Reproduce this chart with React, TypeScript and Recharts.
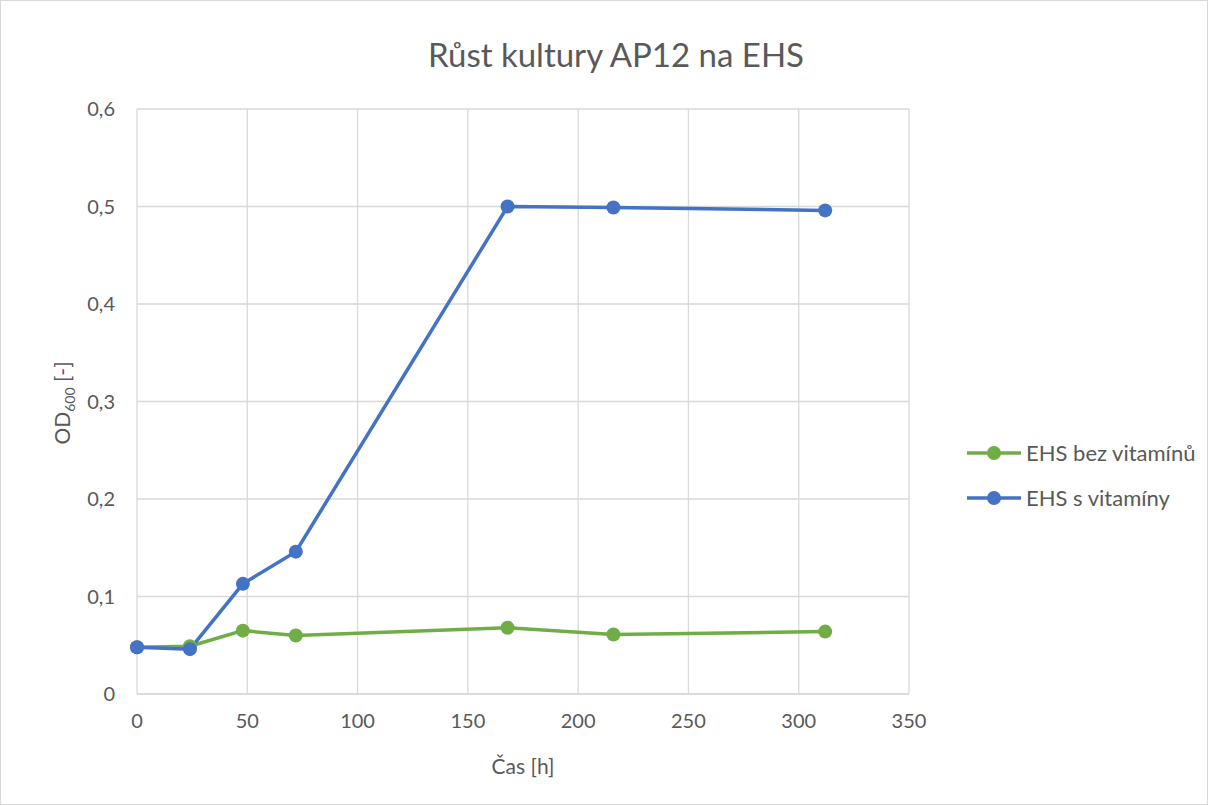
import { LineChart, Line, XAxis, YAxis, CartesianGrid } from "recharts";

// Time points [h]
const hours = [0, 24, 48, 72, 168, 216, 312];
const bezVitaminu = [0.048, 0.049, 0.065, 0.06, 0.068, 0.061, 0.064];
const sVitaminy = [0.048, 0.046, 0.113, 0.146, 0.5, 0.499, 0.496];
const xTicks = [0, 50, 100, 150, 200, 250, 300, 350];
const yTicks = [0, 0.1, 0.2, 0.3, 0.4, 0.5, 0.6];

const GREEN = "#70AD47";
const BLUE = "#4472C4";
const TEXT = "#595959";
const FONT = "Lato, 'Open Sans', sans-serif";

const data = hours.map((h, i) => ({ h, bez: bezVitaminu[i], s: sVitaminy[i] }));

const series = [
  { key: "bez", name: "EHS bez vitamínů", color: GREEN },
  { key: "s", name: "EHS s vitamíny", color: BLUE },
];

function LegendBox() {
  return (
    <div
      style={{
        position: "absolute",
        left: 966,
        top: 429,
        fontFamily: FONT,
        fontSize: 22,
        color: TEXT,
      }}
    >
      {series.map((s) => (
        <div key={s.key} style={{ display: "flex", alignItems: "center", height: 45 }}>
          <svg width={56} height={16}>
            <line x1={0} y1={8} x2={54} y2={8} stroke={s.color} strokeWidth={3.5} />
            <circle cx={27} cy={8} r={7} fill={s.color} />
          </svg>
          <span style={{ marginLeft: 3 }}>{s.name}</span>
        </div>
      ))}
    </div>
  );
}

function YLabel() {
  return (
    <text
      transform="translate(69, 402) rotate(-90)"
      textAnchor="middle"
      fill={TEXT}
      fontFamily={FONT}
      fontSize={21}
    >
      OD
      <tspan fontSize={14} dy={5}>600</tspan>
      <tspan dy={-5}> [-]</tspan>
    </text>
  );
}

export default function App() {
  return (
    <div
      style={{
        position: "absolute",
        left: 0,
        top: 0,
        width: 1208,
        height: 805,
        background: "#fff",
        border: "1px solid #d9d9d9",
        boxSizing: "border-box",
      }}
    >
      <div
        style={{
          position: "absolute",
          top: 33,
          left: 0,
          width: 1230,
          textAlign: "center",
          fontFamily: FONT,
          fontSize: 33,
          color: TEXT,
        }}
      >
        Růst kultury AP12 na EHS
      </div>
      <LineChart
        width={1206}
        height={803}
        data={data}
        margin={{ top: 108, left: 76, right: 298, bottom: 70 }}
        style={{ position: "absolute", left: 0, top: 0 }}
      >
        <CartesianGrid stroke="#d9d9d9" strokeWidth={1.3} />
        <XAxis
          dataKey="h"
          type="number"
          domain={[0, 350]}
          ticks={xTicks}
          height={40}
          axisLine={{ stroke: "#d9d9d9", strokeWidth: 1.3 }}
          tickLine={false}
          tickMargin={14}
          tick={{ fill: TEXT, fontSize: 20, fontFamily: FONT }}
          label={{
            value: "Čas [h]",
            position: "insideBottom",
            offset: -40,
            fill: TEXT,
            fontSize: 21,
            fontFamily: FONT,
          }}
        />
        <YAxis
          type="number"
          domain={[0, 0.6]}
          ticks={yTicks}
          width={60}
          axisLine={false}
          tickLine={false}
          tickMargin={16}
          tickFormatter={(v) => String(v).replace(".", ",")}
          tick={{ fill: TEXT, fontSize: 20, fontFamily: FONT }}
          label={<YLabel />}
        />
        {series.map((s) => (
          <Line
            key={s.key}
            dataKey={s.key}
            name={s.name}
            type="linear"
            stroke={s.color}
            strokeWidth={3.5}
            dot={{ r: 7, fill: s.color, stroke: s.color, strokeWidth: 0 }}
            activeDot={false}
            isAnimationActive={false}
          />
        ))}
      </LineChart>
      <LegendBox />
    </div>
  );
}
